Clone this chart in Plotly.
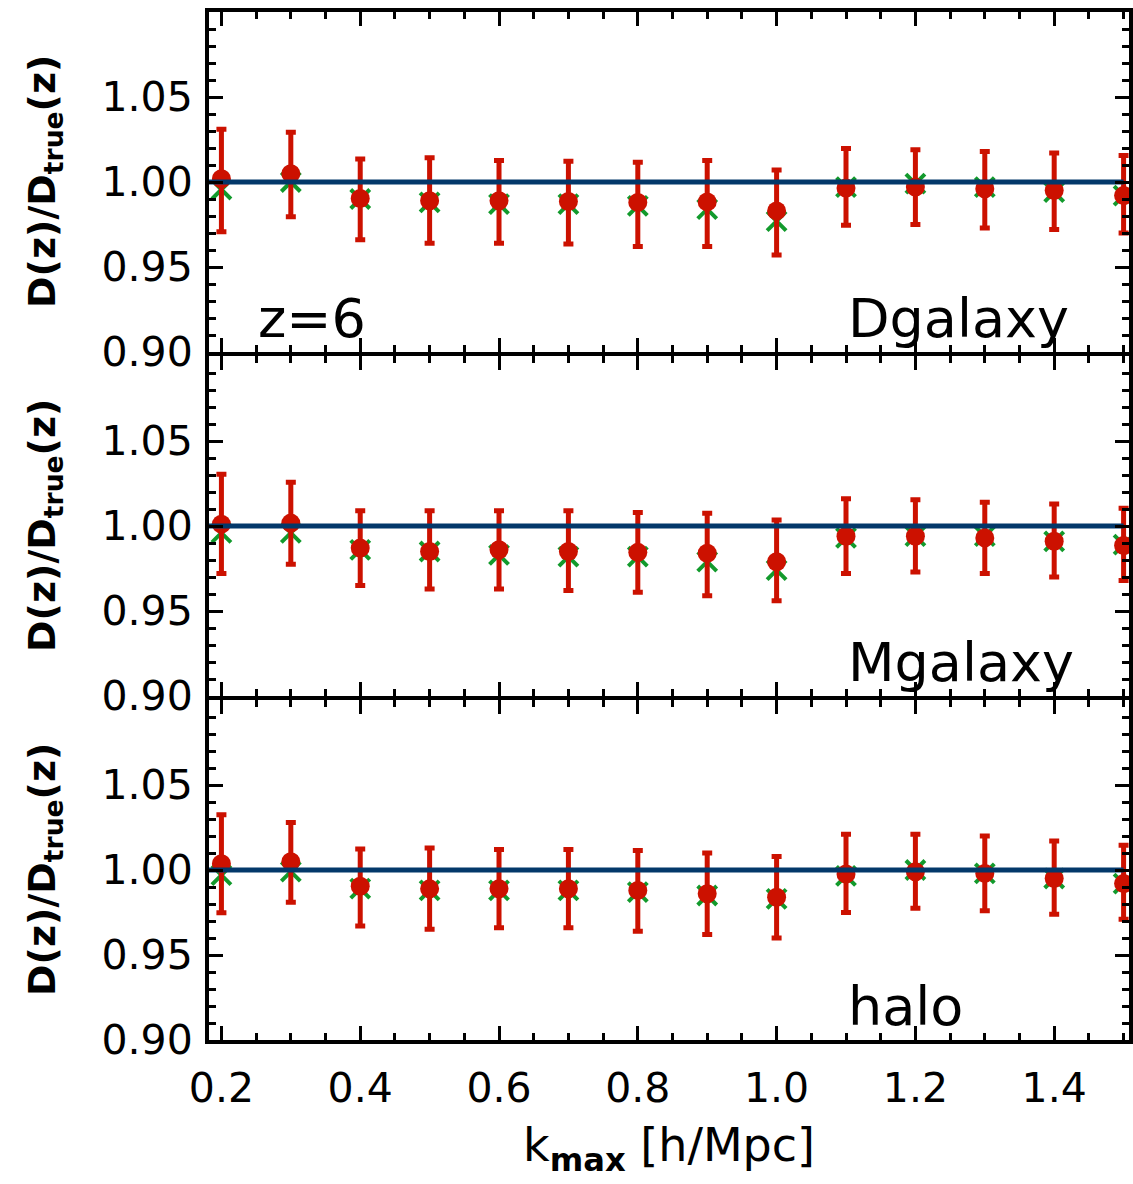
import plotly.graph_objects as go

# ---------------- data ----------------
kmax = [0.2, 0.3, 0.4, 0.5, 0.6, 0.7, 0.8, 0.9, 1.0, 1.1, 1.2, 1.3, 1.4, 1.5]

panel_names = ["Dgalaxy", "Mgalaxy", "halo"]

# Dgalaxy
dgal_val = [1.0019, 1.0048, 0.9903, 0.9890, 0.9890, 0.9885, 0.9880, 0.9883, 0.9830, 0.9965, 0.9970, 0.9960, 0.9950, 0.9920]
dgal_hi = [1.0311, 1.0292, 1.0136, 1.0142, 1.0127, 1.0122, 1.0116, 1.0127, 1.0070, 1.0197, 1.0190, 1.0180, 1.0170, 1.0156]
dgal_lo = [0.9708, 0.9796, 0.9660, 0.9640, 0.9640, 0.9636, 0.9620, 0.9620, 0.9570, 0.9746, 0.9750, 0.9730, 0.9720, 0.9700]
dgal_alt = [0.9956, 1.0000, 0.9900, 0.9880, 0.9870, 0.9870, 0.9860, 0.9840, 0.9770, 0.9970, 0.9990, 0.9970, 0.9940, 0.9920]

# Mgalaxy
mgal_val = [1.0011, 1.0017, 0.9870, 0.9850, 0.9860, 0.9850, 0.9845, 0.9840, 0.9790, 0.9940, 0.9940, 0.9930, 0.9910, 0.9885]
mgal_hi = [1.0304, 1.0258, 1.0090, 1.0090, 1.0090, 1.0090, 1.0080, 1.0075, 1.0035, 1.0160, 1.0155, 1.0140, 1.0130, 1.0105]
mgal_lo = [0.9720, 0.9775, 0.9650, 0.9630, 0.9630, 0.9620, 0.9610, 0.9590, 0.9560, 0.9720, 0.9730, 0.9720, 0.9700, 0.9680]
mgal_alt = [0.9960, 0.9960, 0.9860, 0.9850, 0.9830, 0.9820, 0.9820, 0.9790, 0.9740, 0.9930, 0.9940, 0.9940, 0.9910, 0.9890]

# halo
halo_val = [1.0037, 1.0048, 0.9904, 0.9889, 0.9890, 0.9890, 0.9880, 0.9860, 0.9840, 0.9977, 0.9990, 0.9980, 0.9950, 0.9920]
halo_hi = [1.0325, 1.0280, 1.0123, 1.0129, 1.0120, 1.0120, 1.0115, 1.0100, 1.0080, 1.0210, 1.0210, 1.0200, 1.0170, 1.0145]
halo_lo = [0.9748, 0.9810, 0.9670, 0.9652, 0.9660, 0.9660, 0.9640, 0.9620, 0.9600, 0.9750, 0.9775, 0.9760, 0.9740, 0.9710]
halo_alt = [0.9970, 0.9990, 0.9890, 0.9880, 0.9880, 0.9880, 0.9870, 0.9850, 0.9830, 0.9965, 1.0000, 0.9980, 0.9950, 0.9920]

ref_value = 1.0
x_range = [0.1821, 1.5078]
y_range = [0.90, 1.10]
y_tickvals = [0.90, 0.95, 1.00, 1.05]
y_ticktext = ["0.90", "0.95", "1.00", "1.05"]
x_tickvals = [0.2, 0.4, 0.6, 0.8, 1.0, 1.2, 1.4]
x_ticktext = ["0.2", "0.4", "0.6", "0.8", "1.0", "1.2", "1.4"]

panels = [
    (dgal_val, dgal_hi, dgal_lo, dgal_alt),
    (mgal_val, mgal_hi, mgal_lo, mgal_alt),
    (halo_val, halo_hi, halo_lo, halo_alt),
]

# ---------------- style ----------------
RED = "#cc1100"
GREEN = "#129a2c"
BLUE = "#03386a"
FONT = "DejaVu Sans"

W, H = 1133, 1184
ML, MR, MT, MB = 209, 0, 12, 144
LW = 4
plot_h = H - MT - MB
gap = LW / plot_h
ph = (1 - 2 * gap) / 3
domains = [
    [2 * ph + 2 * gap, 1.0],
    [ph + gap, 2 * ph + gap],
    [0.0, ph],
]

fig = go.Figure()

for i, (val, hi, lo, alt) in enumerate(panels):
    sfx = "" if i == 0 else str(i + 1)
    xr, yr = "x" + sfx, "y" + sfx
    err_up = [h - v for h, v in zip(hi, val)]
    err_dn = [v - l for v, l in zip(val, lo)]
    fig.add_trace(go.Scatter(
        x=kmax, y=alt, mode="markers", xaxis=xr, yaxis=yr, showlegend=False,
        marker=dict(symbol="x-thin", size=19, color=GREEN,
                    line=dict(color=GREEN, width=4)),
    ))
    fig.add_trace(go.Scatter(
        x=kmax, y=val, mode="markers", xaxis=xr, yaxis=yr, showlegend=False,
        marker=dict(symbol="circle", size=19, color=RED, line=dict(width=0)),
        error_y=dict(type="data", symmetric=False, array=err_up, arrayminus=err_dn,
                     color=RED, thickness=5, width=5),
    ))
    fig.add_trace(go.Scatter(
        x=[x_range[0], kmax[-1]], y=[ref_value, ref_value], mode="lines",
        xaxis=xr, yaxis=yr, showlegend=False,
        line=dict(color=BLUE, width=5),
    ))

layout = dict(
    width=W, height=H,
    margin=dict(l=ML, r=MR, t=MT, b=MB),
    paper_bgcolor="white", plot_bgcolor="white",
    font=dict(family=FONT, color="black"),
    showlegend=False,
)

for i in range(3):
    sfx = "" if i == 0 else str(i + 1)
    layout["xaxis" + sfx] = dict(
        domain=[0, 1], anchor="y" + sfx, range=x_range,
        showline=True, linewidth=LW, linecolor="black", mirror="ticks",
        ticks="inside", ticklen=14, tickwidth=3, tickcolor="black",
        tickmode="array", tickvals=x_tickvals, ticktext=x_ticktext,
        minor=dict(ticks="inside", ticklen=7, tickwidth=3, tickcolor="black",
                   tickmode="linear", tick0=0.0, dtick=0.05),
        showgrid=False, zeroline=False,
        showticklabels=(i == 2),
        tickfont=dict(size=41, family=FONT),
        ticklabelstandoff=9,
        matches=None if i == 0 else "x",
    )
    layout["yaxis" + sfx] = dict(
        domain=domains[i], anchor="x" + sfx, range=y_range,
        showline=True, linewidth=LW, linecolor="black", mirror="ticks",
        ticks="inside", ticklen=14, tickwidth=3, tickcolor="black",
        tickmode="array", tickvals=y_tickvals, ticktext=y_ticktext,
        minor=dict(ticks="inside", ticklen=7, tickwidth=3, tickcolor="black",
                   tickmode="linear", tick0=0.90, dtick=0.01),
        showgrid=False, zeroline=False,
        tickfont=dict(size=41, family=FONT),
        ticklabelstandoff=4,
    )

annotations = []
for i, name in enumerate(panel_names):
    sfx = "" if i == 0 else str(i + 1)
    annotations.append(dict(
        text=name, xref="x" + sfx, yref="y" + sfx, x=1.1, y=0.92,
        xanchor="left", yanchor="middle", showarrow=False,
        font=dict(size=54, family=FONT, color="black"),
    ))
    annotations.append(dict(
        text="<b>D(z)/D<sub>true</sub>(z)</b>", xref="paper", yref="y" + sfx + " domain",
        x=0, y=0.5, xshift=-(ML - 44), xanchor="center", yanchor="middle",
        textangle=-90, showarrow=False,
        font=dict(size=38, family=FONT, color="black"),
    ))
annotations.append(dict(
    text="z=6", xref="x", yref="y", x=0.25, y=0.92,
    xanchor="left", yanchor="middle", showarrow=False,
    font=dict(size=54, family=FONT, color="black"),
))
annotations.append(dict(
    text="k<sub><b>max</b></sub> [h/Mpc]", xref="paper", yref="paper",
    x=0.5, y=0, yshift=-108, xanchor="center", yanchor="middle", showarrow=False,
    font=dict(size=46, family=FONT, color="black"),
))
layout["annotations"] = annotations

fig.update_layout(**layout)
fig.write_html("out.html")
